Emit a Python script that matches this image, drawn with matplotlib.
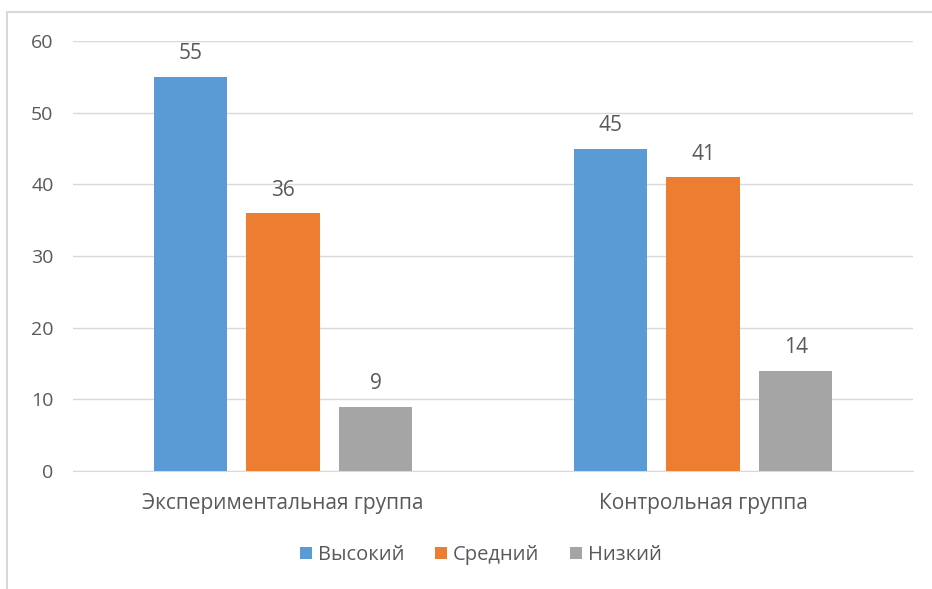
import numpy as np
import matplotlib.pyplot as plt
from matplotlib.patches import Rectangle

plt.rcParams['font.family'] = ['Open Sans', 'DejaVu Sans']

# данные
groups = ["Экспериментальная группа", "Контрольная группа"]
levels = ["Высокий", "Средний", "Низкий"]
high = [55, 45]
mid = [36, 41]
low = [9, 14]
colors = ["#5B9BD5", "#ED7D31", "#A5A5A5"]
txt = "#595959"

fig = plt.figure(figsize=(9.32, 5.89), dpi=100)
ax = fig.add_axes([73/932, 1-471/589, 840/932, 430/589])

x = np.arange(len(groups))
w = 0.174
step = 0.221
for i, (vals, c, lab) in enumerate(zip([high, mid, low], colors, levels)):
    bars = ax.bar(x + (i-1)*step, vals, w, color=c, label=lab, zorder=3)
    for b, v in zip(bars, vals):
        ax.annotate(str(v), (b.get_x()+b.get_width()/2, v), xytext=(0, 9),
                    textcoords="offset points", ha="center", va="bottom",
                    fontsize=15, color=txt)

ax.set_xlim(-0.5, 1.5)
ax.set_ylim(0, 60)
ax.set_yticks(range(0, 61, 10))
ax.set_xticks(x)
ax.set_xticklabels(groups, fontsize=15)
ax.grid(axis="y", color="#D9D9D9", lw=1, zorder=0)
for s in ["top", "right", "left"]:
    ax.spines[s].set_visible(False)
ax.spines["bottom"].set_color("#D9D9D9")
ax.tick_params(length=0, colors=txt)
ax.tick_params(axis="y", pad=14, labelsize=14)
ax.tick_params(axis="x", pad=16)

ax.legend(loc="center", bbox_to_anchor=(481/932, 1-555/589), bbox_transform=fig.transFigure,
          ncol=3, frameon=False, fontsize=14.5, labelcolor=txt, handlelength=0.6,
          handleheight=0.6, handletextpad=0.3, columnspacing=1.5)

# рамка диаграммы
fig.patches.append(Rectangle((7/932, -0.1), 1.2, 1.1-12/589,
                             transform=fig.transFigure, fill=False,
                             edgecolor="#D9D9D9", lw=1.5))

fig.savefig("out.png", dpi=100)
